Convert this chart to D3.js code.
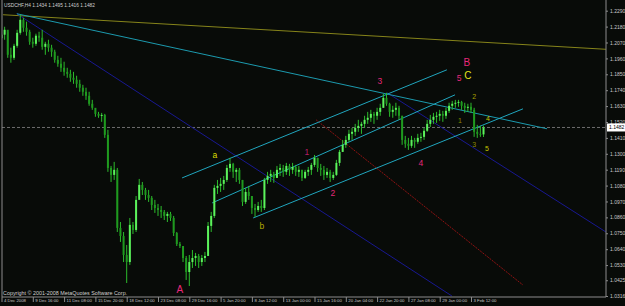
<!DOCTYPE html>
<html>
<head>
<meta charset="utf-8">
<style>
  body { margin: 0; background: #080b08; }
  svg { display: block; font-family: "Liberation Sans", Arial, sans-serif; }
  .ax text { fill: #c8c8c8; font-size: 5px; }
  .ax line { stroke: #8c8c8c; }
</style>
</head>
<body>
<svg width="625" height="306"></svg>
<script src="https://d3js.org/d3.v7.min.js"></script>
<script>

// USDCHF H4 bars
const highs = [
  1.2158,1.2179,1.2144,1.2034,1.2061,1.2158,1.2262,1.2241,1.2214,1.2158,
  1.2103,1.2131,1.2144,1.2158,1.2075,1.2089,1.2054,1.2020,1.1978,1.1964,
  1.1937,1.1895,1.1881,1.1867,1.1840,1.1812,1.1777,1.1757,1.1729,1.1673,
  1.1604,1.1590,1.1583,1.1576,1.1466,1.1216,1.1244,1.1202,1.0828,1.0759,
  1.0669,1.0856,1.0828,1.1008,1.1126,1.1105,1.1064,1.1050,1.1008,1.0981,
  1.0953,1.0939,1.0911,1.0898,1.0898,1.0870,1.0759,1.0690,1.0662,1.0593,
  1.0600,1.0634,1.0614,1.0607,1.0600,1.0621,1.0828,1.0898,1.1085,1.1119,
  1.1133,1.1147,1.1223,1.1272,1.1237,1.1202,1.1202,1.1119,1.1064,1.1078,
  1.1008,1.0953,1.0967,1.0981,1.1133,1.1175,1.1189,1.1175,1.1216,1.1230,
  1.1223,1.1237,1.1230,1.1237,1.1223,1.1216,1.1189,1.1189,1.1209,1.1237,
  1.1292,1.1272,1.1230,1.1216,1.1202,1.1189,1.1175,1.1258,1.1327,1.1396,
  1.1424,1.1466,1.1479,1.1507,1.1535,1.1521,1.1563,1.1590,1.1604,1.1590,
  1.1618,1.1646,1.1715,1.1722,1.1653,1.1632,1.1653,1.1632,1.1563,1.1424,
  1.1410,1.1424,1.1410,1.1438,1.1445,1.1479,1.1535,1.1569,1.1583,1.1590,
  1.1604,1.1597,1.1618,1.1653,1.1666,1.1673,1.1673,1.1666,1.1653,1.1646,
  1.1653,1.1618,1.1500,1.1493,1.1495
];
const lows = [
  1.2075,1.2089,1.1964,1.1930,1.1950,1.2034,1.2124,1.2144,1.2117,1.2054,
  1.2034,1.2047,1.2075,1.2020,1.1985,1.2006,1.1971,1.1930,1.1902,1.1867,
  1.1840,1.1826,1.1798,1.1784,1.1757,1.1729,1.1701,1.1673,1.1632,1.1604,
  1.1556,1.1549,1.1521,1.1410,1.1175,1.1105,1.1119,1.0759,1.0690,1.0551,
  1.0406,1.0531,1.0745,1.0759,1.0995,1.1015,1.0981,1.0967,1.0911,1.0891,
  1.0870,1.0856,1.0842,1.0828,1.0835,1.0731,1.0662,1.0648,1.0551,1.0427,
  1.0385,1.0510,1.0524,1.0510,1.0524,1.0551,1.0634,1.0759,1.0856,1.1022,
  1.1036,1.1050,1.1105,1.1175,1.1133,1.1105,1.1092,1.0939,1.0953,1.0981,
  1.0884,1.0863,1.0898,1.0898,1.0911,1.1092,1.1105,1.1099,1.1133,1.1147,
  1.1140,1.1154,1.1147,1.1161,1.1147,1.1140,1.1112,1.1126,1.1147,1.1154,
  1.1209,1.1175,1.1147,1.1119,1.1133,1.1105,1.1119,1.1147,1.1216,1.1313,
  1.1341,1.1383,1.1396,1.1424,1.1452,1.1438,1.1479,1.1507,1.1521,1.1507,
  1.1535,1.1563,1.1618,1.1632,1.1556,1.1549,1.1563,1.1535,1.1362,1.1341,
  1.1327,1.1341,1.1341,1.1369,1.1383,1.1396,1.1452,1.1486,1.1507,1.1514,
  1.1528,1.1521,1.1542,1.1583,1.1604,1.1618,1.1625,1.1604,1.1583,1.1590,
  1.1583,1.1417,1.1410,1.1417,1.1416
];
const closes = [
  1.2124,1.2158,1.1985,1.1964,1.2047,1.2137,1.2227,1.2172,1.2144,1.2075,
  1.2061,1.2117,1.2103,1.2040,1.2061,1.2034,1.2006,1.1950,1.1923,1.1895,
  1.1867,1.1853,1.1826,1.1812,1.1784,1.1757,1.1729,1.1701,1.1646,1.1618,
  1.1576,1.1563,1.1569,1.1431,1.1202,1.1154,1.1189,1.0787,1.0731,1.0600,
  1.0551,1.0808,1.0773,1.0981,1.1085,1.1050,1.1015,1.0995,1.0946,1.0925,
  1.0911,1.0898,1.0870,1.0884,1.0856,1.0752,1.0676,1.0662,1.0579,1.0482,
  1.0551,1.0579,1.0593,1.0551,1.0579,1.0593,1.0801,1.0870,1.1064,1.1078,
  1.1092,1.1119,1.1202,1.1230,1.1175,1.1189,1.1119,1.0967,1.1036,1.1008,
  1.0925,1.0911,1.0939,1.0925,1.1119,1.1147,1.1161,1.1133,1.1189,1.1202,
  1.1175,1.1216,1.1189,1.1209,1.1175,1.1189,1.1133,1.1175,1.1189,1.1223,
  1.1272,1.1202,1.1189,1.1154,1.1175,1.1133,1.1154,1.1237,1.1313,1.1362,
  1.1396,1.1438,1.1452,1.1479,1.1493,1.1507,1.1535,1.1549,1.1576,1.1563,
  1.1590,1.1618,1.1687,1.1646,1.1590,1.1604,1.1618,1.1563,1.1396,1.1369,
  1.1355,1.1396,1.1383,1.1410,1.1417,1.1459,1.1507,1.1535,1.1556,1.1563,
  1.1576,1.1563,1.1597,1.1632,1.1646,1.1653,1.1659,1.1632,1.1618,1.1625,
  1.1604,1.1452,1.1438,1.1434,1.1482
];
const firstOpen = 1.2100;
const lastPrice = 1.1482;

const priceTicks = [1.2290,1.2180,1.2070,1.1960,1.1850,1.1740,1.1630,1.1520,1.1410,
  1.1300,1.1190,1.1080,1.0970,1.0860,1.0750,1.0640,1.0530,1.0425,1.0316];
const dateLabels = ["4 Dec 2008","9 Dec 16:00","11 Dec 08:00","15 Dec 20:00","18 Dec 12:00",
  "23 Dec 08:00","29 Dec 16:00","5 Jan 20:00","8 Jan 12:00","13 Jan 00:00","15 Jan 16:00",
  "20 Jan 04:00","22 Jan 20:00","27 Jan 08:00","29 Jan 00:00","3 Feb 12:00"];
const dateBars = [0,10,20,30,40,50,60,70,80,90,100,110,120,130,140,150];

// trend lines as [bar, price] end points
const longResistance = [[0.5, 1.2262], [193.1, 1.2023]];
const fallingTop = [[4.9, 1.2269], [174.3, 1.1473]];
const fallingBlue = [[4.9, 1.2269], [143.9, 1.0316]];
const fallingBlue2 = [[123.2, 1.1722], [193.1, 1.0759]];
const redTrend = [[100.5, 1.1535], [166.6, 1.0392]];
const channelTop = [[57.7, 1.1133], [142.3, 1.1881]];
const channelMid = [[67.3, 1.0960], [144.9, 1.1708]];
const channelLow = [[80.4, 1.0856], [166.6, 1.1611]];

// wave labels: text, bar, price, group
const waveLabels = [
  ["A", 57.0, 1.0364, "big"], ["B", 148.7, 1.1930, "big"], ["C", 149.0, 1.1840, "bigY"],
  ["3", 120.9, 1.1805, "pink"], ["5", 146.2, 1.1826, "pink"], ["1", 97.6, 1.1313, "pink1"],
  ["2", 105.9, 1.1029, "pink"], ["4", 134.0, 1.1237, "pink"],
  ["a", 68.2, 1.1292, "yel"], ["b", 83.2, 1.0801, "yel2"],
  ["2", 151.0, 1.1694, "small"], ["1", 146.5, 1.1528, "small2"], ["4", 155.4, 1.1542, "small3"],
  ["3", 151.0, 1.1362, "small2"], ["5", 155.1, 1.1334, "small3"]
];
const labelStyle = {
  big:   { fill: "#e8287c", size: 10 },
  bigY:  { fill: "#e4e41c", size: 10 },
  pink:  { fill: "#e4287a", size: 8.5 },
  pink1: { fill: "#b81e64", size: 8.5 },
  yel:   { fill: "#dede00", size: 8.5 },
  yel2:  { fill: "#b4ac00", size: 8.5 },
  small: { fill: "#a8a000", size: 7 },
  small2:{ fill: "#8c8a00", size: 7 },
  small3:{ fill: "#c4c400", size: 7 }
};

const svg = d3.select("svg");
svg.append("rect").attr("width", 625).attr("height", 306).attr("fill", "#080b08");

const x = d3.scaleLinear().domain([0, 150]).range([1.5, 471]);
const y = d3.scaleLinear().domain([1.0316, 1.2290]).range([296, 10.7]);

svg.append("clipPath").attr("id", "plot")
  .append("rect").attr("x", 2).attr("y", 0).attr("width", 604).attr("height", 297);

const g = svg.append("g").attr("clip-path", "url(#plot)");

// current price line
g.append("line")
  .attr("x1", 2).attr("x2", 606)
  .attr("y1", y(lastPrice)).attr("y2", y(lastPrice))
  .attr("stroke", "#6e6e6e").attr("stroke-dasharray", "3,2");

const line = d3.line().x(d => x(d[0])).y(d => y(d[1]));
function drawLine(pts, color, dash) {
  g.append("path").attr("d", line(pts))
    .attr("fill", "none").attr("stroke", color).attr("stroke-width", 1)
    .attr("stroke-dasharray", dash || null);
}
drawLine(longResistance, "#86841a");
drawLine(fallingBlue, "#181890");
drawLine(fallingBlue2, "#181890");
drawLine(redTrend, "#8e1212", "2,1");
drawLine(fallingTop, "#1c9aae");
drawLine(channelTop, "#20a6be");
drawLine(channelMid, "#20a6be");
drawLine(channelLow, "#20a6be");

// candles
const bars = closes.map((c, i) => ({ i, o: i ? closes[i - 1] : firstOpen, h: highs[i], l: lows[i], c }));

g.selectAll(".wick").data(bars).join("line")
  .attr("class", "wick")
  .attr("x1", d => x(d.i)).attr("x2", d => x(d.i))
  .attr("y1", d => y(d.h)).attr("y2", d => y(d.l))
  .attr("stroke", "#2cbc2c").attr("stroke-width", 1);

g.selectAll(".body").data(bars).join("rect")
  .attr("class", "body")
  .attr("x", d => x(d.i) - 1)
  .attr("width", 2)
  .attr("y", d => y(Math.max(d.o, d.c)))
  .attr("height", d => Math.max(1, Math.abs(y(d.o) - y(d.c))))
  .attr("fill", d => d.c >= d.o ? "#5cf25c" : "#1f9a1f");

// wave labels
g.selectAll(".wave").data(waveLabels).join("text")
  .attr("class", "wave")
  .attr("x", d => x(d[1])).attr("y", d => y(d[2]))
  .attr("text-anchor", "middle").attr("dominant-baseline", "central")
  .attr("font-size", d => labelStyle[d[3]].size)
  .attr("fill", d => labelStyle[d[3]].fill)
  .text(d => d[0]);

// frame
svg.append("path")
  .attr("d", "M2,0V297H606V0")
  .attr("fill", "none").attr("stroke", "#8c8c8c").attr("stroke-width", 1);

// price axis
const yAxis = svg.append("g").attr("class", "ax")
  .attr("transform", "translate(606,0)")
  .call(d3.axisRight(y).tickValues(priceTicks).tickSize(2).tickPadding(2).tickFormat(d3.format(".4f")));
yAxis.select(".domain").remove();

const py = y(lastPrice);
svg.append("rect").attr("x", 607).attr("y", py - 4).attr("width", 18).attr("height", 8).attr("fill", "#ffffff");
svg.append("text").attr("x", 609).attr("y", py).attr("dominant-baseline", "central")
  .attr("font-size", 5).attr("fill", "#000").text(lastPrice.toFixed(4));

// time axis
const xAxis = svg.append("g").attr("class", "ax")
  .attr("transform", "translate(0,297)")
  .call(d3.axisBottom(x).tickValues(dateBars).tickSize(5).tickPadding(-3)
    .tickFormat((d, i) => dateLabels[i]));
xAxis.select(".domain").remove();
xAxis.selectAll("text").attr("text-anchor", "start").attr("dx", 2).style("font-size", "4.3px");

// header and footer text
svg.append("text").attr("x", 4).attr("y", 7).attr("font-size", 4.8).attr("fill", "#d0d0d0")
  .text("USDCHF,H4  1.1434 1.1495 1.1416 1.1482");
svg.append("text").attr("x", 3).attr("y", 295).attr("font-size", 5.4).attr("fill", "#d0d0d0")
  .text("Copyright \u00a9 2001-2008 MetaQuotes Software Corp.");

</script>
</body>
</html>
